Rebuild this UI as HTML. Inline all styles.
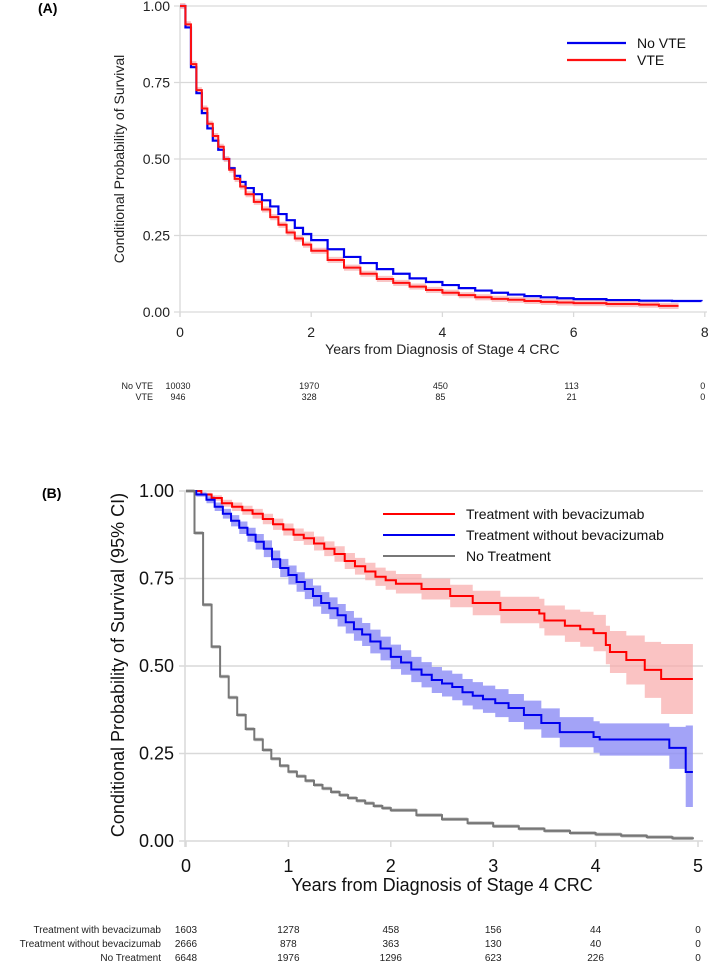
<!DOCTYPE html>
<html><head><meta charset="utf-8"><style>
body{margin:0;background:#fff;}
svg{display:block;font-family:"Liberation Sans",Arial,sans-serif;}
</style></head><body>
<svg id="fig" width="709" height="961" viewBox="0 0 709 961"></svg>
<script>
// ---------- Panel A data ----------
const aTicksY=[0,0.25,0.5,0.75,1];
const aTicksX=[0,2,4,6,8];
const aNoVteT=[0,0.083,0.167,0.25,0.333,0.417,0.5,0.583,0.667,0.75,0.833,0.917,1,1.125,1.25,1.375,1.5,1.625,1.75,1.875,2,2.25,2.5,2.75,3,3.25,3.5,3.75,4,4.25,4.5,4.75,5,5.25,5.5,5.75,6,6.5,7,7.5,7.95];
const aNoVteS=[1,0.93,0.80,0.715,0.65,0.60,0.56,0.53,0.50,0.47,0.445,0.425,0.405,0.385,0.365,0.345,0.32,0.30,0.275,0.255,0.235,0.205,0.18,0.16,0.14,0.125,0.11,0.098,0.088,0.078,0.07,0.063,0.057,0.052,0.048,0.045,0.042,0.039,0.037,0.036,0.035];
const aVteT=[0,0.083,0.167,0.25,0.333,0.417,0.5,0.583,0.667,0.75,0.833,0.917,1,1.125,1.25,1.375,1.5,1.625,1.75,1.875,2,2.25,2.5,2.75,3,3.25,3.5,3.75,4,4.25,4.5,4.75,5,5.25,5.5,5.75,6,6.5,7,7.3,7.6];
const aVteS=[1,0.94,0.81,0.725,0.665,0.615,0.575,0.54,0.50,0.465,0.435,0.41,0.385,0.36,0.335,0.31,0.285,0.26,0.24,0.22,0.20,0.17,0.145,0.125,0.108,0.095,0.083,0.072,0.063,0.055,0.048,0.043,0.04,0.036,0.033,0.031,0.029,0.026,0.024,0.02,0.02];
const aRiskLabels=["No VTE","VTE"];
const aRiskNoVte=[10030,1970,450,113,0];
const aRiskVte=[946,328,85,21,0];

// ---------- Panel B data ----------
const bTicksY=[0,0.25,0.5,0.75,1];
const bTicksX=[0,1,2,3,4,5];
const bBevT=[0,0.15,0.25,0.35,0.45,0.55,0.65,0.75,0.85,0.95,1.05,1.15,1.25,1.35,1.45,1.55,1.65,1.75,1.85,1.95,2.05,2.3,2.58,2.8,3.07,3.45,3.5,3.7,3.85,3.98,4.1,4.14,4.3,4.48,4.64,4.95];
const bBevS=[1,0.99,0.98,0.965,0.955,0.945,0.935,0.92,0.905,0.89,0.875,0.865,0.85,0.835,0.82,0.80,0.785,0.77,0.755,0.745,0.735,0.72,0.70,0.68,0.66,0.65,0.63,0.615,0.605,0.594,0.56,0.54,0.517,0.489,0.463,0.463];
const bBevCI=[0,0.005,0.008,0.01,0.012,0.013,0.014,0.015,0.016,0.017,0.018,0.019,0.02,0.021,0.022,0.023,0.024,0.025,0.026,0.027,0.028,0.03,0.032,0.035,0.038,0.042,0.043,0.046,0.05,0.052,0.055,0.06,0.07,0.08,0.1,0.1];
const bNoBevT=[0,0.1,0.2,0.28,0.36,0.44,0.52,0.6,0.68,0.76,0.84,0.92,1.0,1.08,1.16,1.24,1.32,1.4,1.48,1.56,1.64,1.72,1.8,1.9,2,2.1,2.2,2.3,2.4,2.5,2.6,2.7,2.8,2.9,3.02,3.15,3.3,3.47,3.65,3.98,4.04,4.72,4.88,4.95];
const bNoBevS=[1,0.99,0.975,0.955,0.935,0.915,0.895,0.875,0.855,0.835,0.805,0.78,0.76,0.74,0.72,0.70,0.68,0.665,0.645,0.625,0.605,0.59,0.57,0.55,0.526,0.51,0.49,0.475,0.46,0.45,0.44,0.425,0.415,0.405,0.394,0.38,0.36,0.337,0.311,0.297,0.29,0.266,0.197,0.197];
const bNoBevCILo=[0,0.006,0.01,0.012,0.014,0.016,0.018,0.02,0.022,0.024,0.025,0.026,0.027,0.028,0.029,0.03,0.031,0.031,0.032,0.032,0.033,0.033,0.034,0.034,0.035,0.035,0.036,0.036,0.037,0.037,0.038,0.038,0.039,0.039,0.04,0.04,0.041,0.042,0.043,0.045,0.046,0.06,0.1,0.1];
const bNoBevCIHi=[0,0.006,0.01,0.012,0.014,0.016,0.018,0.02,0.022,0.024,0.025,0.026,0.027,0.028,0.029,0.03,0.031,0.031,0.032,0.032,0.033,0.033,0.034,0.034,0.035,0.035,0.036,0.036,0.037,0.037,0.038,0.038,0.039,0.039,0.04,0.04,0.041,0.042,0.043,0.045,0.046,0.06,0.133,0.133];
const bNoTrtT=[0,0.083,0.167,0.25,0.333,0.417,0.5,0.583,0.667,0.75,0.833,0.917,1,1.083,1.167,1.25,1.333,1.417,1.5,1.583,1.667,1.75,1.833,1.917,2,2.25,2.5,2.75,3,3.25,3.5,3.75,4,4.25,4.5,4.75,4.95];
const bNoTrtS=[1,0.88,0.675,0.555,0.47,0.41,0.36,0.32,0.29,0.26,0.235,0.215,0.198,0.185,0.172,0.16,0.15,0.14,0.131,0.123,0.115,0.108,0.1,0.094,0.088,0.074,0.062,0.051,0.042,0.035,0.029,0.023,0.019,0.015,0.011,0.008,0.005];
const bRiskLabels=["Treatment with bevacizumab","Treatment without bevacizumab","No Treatment"];
const bRiskBev=[1603,1278,458,156,44,0];
const bRiskNoBev=[2666,878,363,130,40,0];
const bRiskNoTrt=[6648,1976,1296,623,226,0];

const NS="http://www.w3.org/2000/svg";
const svg=document.getElementById('fig');
function mk(tag,attrs,parent,text){const e=document.createElementNS(NS,tag);for(const k in attrs)e.setAttribute(k,attrs[k]);if(text!==undefined)e.textContent=text;(parent||svg).appendChild(e);return e;}
function stepPath(T,S,sx,sy){let d='M'+sx(T[0])+','+sy(S[0]);for(let i=1;i<T.length;i++){d+=' H'+sx(T[i])+' V'+sy(S[i]);}return d;}
function bandPath(T,L,H,sx,sy){
 let d='M'+sx(T[0])+','+sy(H[0]);
 for(let i=1;i<T.length;i++){d+=' H'+sx(T[i])+' V'+sy(H[i]);}
 d+=' V'+sy(L[L.length-1]);
 for(let i=T.length-1;i>0;i--){d+=' V'+sy(L[i-1])+' H'+sx(T[i-1]);}
 return d+' Z';}

// ---------- Panel A ----------
const ax=t=>180+t*65.6, ay=v=>312-v*306;
let gA=mk('g',{});


let lab=mk('text',{x:38,y:13,'font-size':14,'font-weight':'bold'},gA,'(A)');

aTicksY.forEach(v=>{
 const gl=mk('line',{x1:174,x2:707,y1:ay(v),y2:ay(v),stroke:'#d9d9d9','stroke-width':1.3},gA);
 
 const t=mk('text',{x:170,y:ay(v)+5,'font-size':14,'text-anchor':'end',fill:'#222'},gA,v.toFixed(2));
 
});
mk('line',{x1:180,x2:180,y1:ay(1),y2:ay(0)+5,stroke:'#d9d9d9','stroke-width':1.3},gA);
aTicksX.forEach(v=>{
 mk('line',{x1:ax(v),x2:ax(v),y1:ay(0),y2:ay(0)+5,stroke:'#d9d9d9','stroke-width':1.3},gA);
 const t=mk('text',{x:ax(v),y:337,'font-size':14,'text-anchor':'middle',fill:'#222'},gA,String(v));
 
});
let xt=mk('text',{x:ax(4),y:354,'font-size':14,'text-anchor':'middle',fill:'#222'},gA,'Years from Diagnosis of Stage 4 CRC');

let yt=mk('text',{x:0,y:0,'font-size':14,'text-anchor':'middle',fill:'#222',transform:'translate(124,159) rotate(-90)'},gA,'Conditional Probability of Survival');

let bandA=mk('path',{d:bandPath(aVteT,aVteS.map(v=>v-0.01),aVteS.map(v=>v+0.01),ax,ay),fill:'#f5a0a0','fill-opacity':0.6},gA);

let pB=mk('path',{d:stepPath(aNoVteT,aNoVteS,ax,ay),fill:'none',stroke:'#0000ee','stroke-width':2.2},gA);

let pR=mk('path',{d:stepPath(aVteT,aVteS,ax,ay),fill:'none',stroke:'#ff1010','stroke-width':2},gA);

[["No VTE",'#0000ee',43],["VTE",'#ff1010',60]].forEach(([n,c,y])=>{
 const g=mk('g',{},gA);
 
 mk('line',{x1:567,x2:626,y1:y,y2:y,stroke:c,'stroke-width':2.2},g);
 mk('text',{x:637,y:y+5,'font-size':14,fill:'#111'},g,n);
});
const aCols=[0,2,4,6,8];
[[aRiskNoVte,386],[aRiskVte,397]].forEach(([arr,y],ri)=>{
 const l=mk('text',{x:153,y:y+3,'font-size':9,'text-anchor':'end',fill:'#222'},gA,aRiskLabels[ri]);
 
 arr.forEach((n,i)=>{const t=mk('text',{x:ax(aCols[i])-2,y:y+3,'font-size':9,'text-anchor':'middle',fill:'#222'},gA,String(n));
  });
});

// ---------- Panel B ----------
const bx=t=>186+t*102.4, by=v=>841-v*350;
let gB=mk('g',{});


let labB=mk('text',{x:42,y:498,'font-size':14,'font-weight':'bold'},gB,'(B)');

bTicksY.forEach(v=>{
 const gl=mk('line',{x1:179,x2:703,y1:by(v),y2:by(v),stroke:'#d9d9d9','stroke-width':1.5},gB);
 
 const t=mk('text',{x:174,y:by(v)+6,'font-size':18,'text-anchor':'end',fill:'#111'},gB,v.toFixed(2));
 
});
mk('line',{x1:185,x2:185,y1:by(1),y2:by(0)+6,stroke:'#d9d9d9','stroke-width':1.5},gB);
bTicksX.forEach(v=>{
 mk('line',{x1:bx(v),x2:bx(v),y1:by(0),y2:by(0)+6,stroke:'#d9d9d9','stroke-width':1.5},gB);
 const t=mk('text',{x:bx(v),y:872,'font-size':18,'text-anchor':'middle',fill:'#111'},gB,String(v));
 
});
let xtB=mk('text',{x:bx(2.5),y:891,'font-size':18,'text-anchor':'middle',fill:'#111'},gB,'Years from Diagnosis of Stage 4 CRC');

let ytB=mk('text',{x:0,y:0,'font-size':18,'text-anchor':'middle',fill:'#111',transform:'translate(124,665) rotate(-90)'},gB,'Conditional Probability of Survival (95% CI)');

let band1=mk('path',{d:bandPath(bBevT,bBevS.map((v,i)=>v-bBevCI[i]),bBevS.map((v,i)=>v+bBevCI[i]),bx,by),fill:'#f8aaaa','fill-opacity':0.7},gB);

let band2=mk('path',{d:bandPath(bNoBevT,bNoBevS.map((v,i)=>v-bNoBevCILo[i]),bNoBevS.map((v,i)=>v+bNoBevCIHi[i]),bx,by),fill:'#8c8cf5','fill-opacity':0.8},gB);

let band3=mk('path',{d:bandPath(bNoTrtT,bNoTrtS.map(v=>v-0.005),bNoTrtS.map(v=>v+0.005),bx,by),fill:'#bbbbbb'},gB);

let c1=mk('path',{d:stepPath(bBevT,bBevS,bx,by),fill:'none',stroke:'#ff0000','stroke-width':2},gB);

let c2=mk('path',{d:stepPath(bNoBevT,bNoBevS,bx,by),fill:'none',stroke:'#0000ee','stroke-width':2},gB);

let c3=mk('path',{d:stepPath(bNoTrtT,bNoTrtS,bx,by),fill:'none',stroke:'#777','stroke-width':2},gB);

[["Treatment with bevacizumab",'#ff0000',514],["Treatment without bevacizumab",'#0000ee',535],["No Treatment",'#777',556]].forEach(([n,c,y])=>{
 const g=mk('g',{},gB);
 
 mk('line',{x1:383,x2:455,y1:y,y2:y,stroke:c,'stroke-width':2},g);
 mk('text',{x:466,y:y+5,'font-size':14,fill:'#111'},g,n);
});
[[bRiskBev,929],[bRiskNoBev,943],[bRiskNoTrt,957]].forEach(([arr,y],ri)=>{
 const l=mk('text',{x:161,y:y+4,'font-size':10,'text-anchor':'end',fill:'#222'},gB,bRiskLabels[ri]);
 
 arr.forEach((n,i)=>{const t=mk('text',{x:bx(i),y:y+4,'font-size':10,'text-anchor':'middle',fill:'#222'},gB,String(n));
  });
});
</script>
</body></html>
